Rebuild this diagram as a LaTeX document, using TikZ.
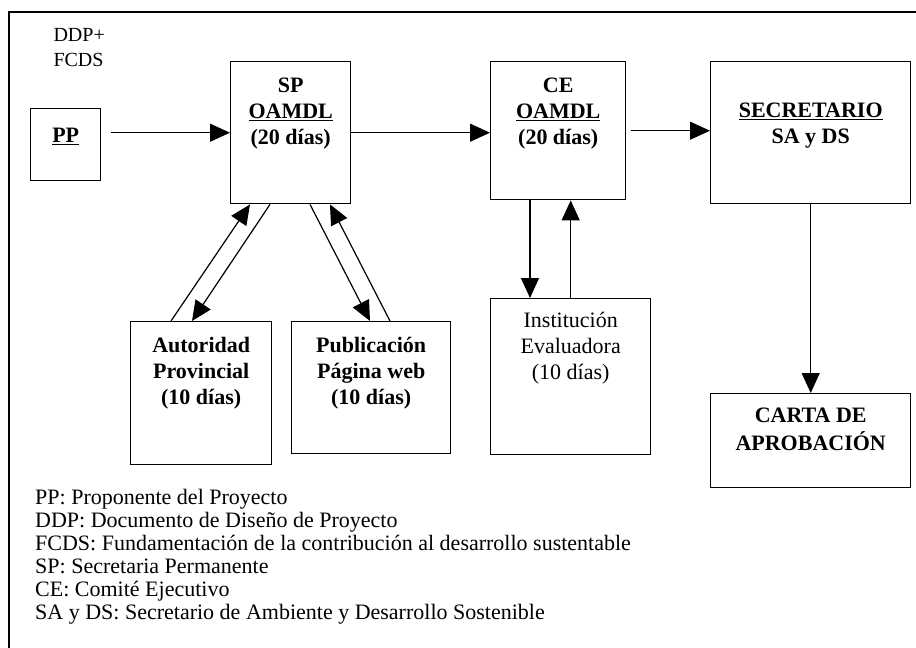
\documentclass[tikz,border=0pt]{standalone}
\usepackage{fontspec}
\setmainfont{Liberation Serif}
\usetikzlibrary{arrows.meta}
\newcommand{\boxtxt}[4]{\parbox[c][#2pt][t]{#1pt}{\centering\vspace*{#3pt}\strut#4}}

\begin{document}
\begin{tikzpicture}[x=1pt,y=-1pt,
  box/.style={draw,line width=1.4pt,inner sep=0pt,anchor=north west,font=\fontsize{22}{26}\selectfont},
  flow/.style={line width=1.2pt,-{Triangle[length=20pt,width=18pt]}}]
\useasboundingbox (0,0) rectangle (916,648);
\draw[line width=1.4pt] (9,648) -- (9,12) -- (916,12);

\node[anchor=west,font=\fontsize{20}{25}\selectfont] (ddp) at (50,35) {DDP+};
\node[anchor=west,font=\fontsize{20}{25}\selectfont] (fcds) at (50,60) {FCDS};

\node[box] (pp) at (30,108) {\boxtxt{70}{72}{16}{\bfseries\underline{PP}}};
\node[box] (sp) at (230,61) {\boxtxt{120}{142}{13}{\bfseries SP\\\underline{OAMDL}\\(20 días)}};
\node[box] (ce) at (490,61) {\boxtxt{135}{138}{13}{\bfseries CE\\\underline{OAMDL}\\(20 días)}};
\node[box] (sec) at (710,61) {\boxtxt{200}{142}{38}{\bfseries\underline{SECRETARIO}\\SA y DS}};
\node[box] (aut) at (130,321) {\boxtxt{141}{143}{13}{\bfseries Autoridad\\Provincial\\(10 días)}};
\node[box] (pub) at (291,321) {\boxtxt{159}{132}{13}{\bfseries Publicación\\Página web\\(10 días)}};
\node[box] (inst) at (490,298) {\boxtxt{160}{156}{11}{Institución\\Evaluadora\\(10 días)}};
\node[box] (carta) at (710,393) {\boxtxt{200}{94}{11}{\bfseries CARTA DE\\APROBACIÓN}};

% main line
\draw[flow] ([xshift=10pt]pp.east |- sp.west) -- (sp.west);
\draw[flow] (sp.east) -- (sp.east -| ce.west);
\draw[flow] ([xshift=5pt]ce.east) -- (ce.east -| sec.west);
\draw[flow] (sec.south) -- (carta.north);

% back and forth
\draw[flow] ([xshift=41pt]aut.north west) -- ([xshift=20pt]sp.south west);
\draw[flow] ([xshift=40pt]sp.south west) -- ([xshift=62pt]aut.north west);
\draw[flow] ([xshift=80pt]sp.south west) -- ([xshift=79pt]pub.north west);
\draw[flow] ([xshift=99pt]pub.north west) -- ([xshift=100pt]sp.south west);
\draw[flow] ([xshift=40pt]ce.south west) -- ([xshift=40pt]ce.south west |- inst.north);
\draw[flow] (inst.north) -- (inst.north |- ce.south);

% legend
\foreach \txt [count=\i] in {PP: Proponente del Proyecto,
  DDP: Documento de Diseño de Proyecto,
  FCDS: Fundamentación de la contribución al desarrollo sustentable,
  SP: Secretaria Permanente,
  CE: Comité Ejecutivo,
  SA y DS: Secretario de Ambiente y Desarrollo Sostenible}
  \node[anchor=base west,inner sep=0pt,font=\fontsize{22}{23}\selectfont] (leg\i) at (35,{504+23*(\i-1)}) {\txt};
\end{tikzpicture}
\end{document}
